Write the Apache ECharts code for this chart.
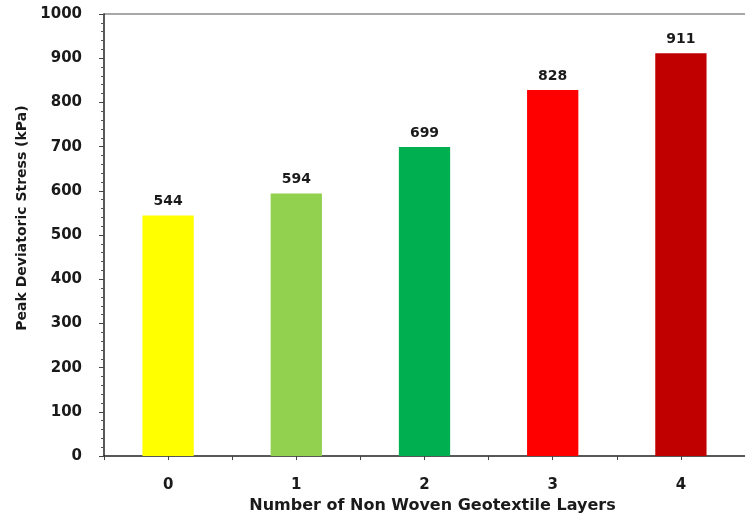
<!DOCTYPE html>
<html>
<head>
<meta charset="utf-8">
<script src="https://cdn.jsdelivr.net/npm/echarts@6/dist/echarts.min.js"></script>
<style>
  html, body { margin: 0; padding: 0; background: #fff; }
  #chart { width: 745px; height: 519px; }
</style>
</head>
<body>
<div id="chart"></div>
<script>
// Peak deviatoric stress against number of non-woven geotextile layers
const layers = ['0', '1', '2', '3', '4'];
const peakStress = [544, 594, 699, 828, 911];
const barColors = ['#FFFF00', '#92D050', '#00B050', '#FF0000', '#C00000'];
const yTicks = [0, 100, 200, 300, 400, 500, 600, 700, 800, 900, 1000];

const FONT = '"DejaVu Sans", sans-serif';
const TEXT = '#1a1a1a';
const chart = echarts.init(document.getElementById('chart'));

chart.setOption({
  animation: false,
  backgroundColor: '#fff',
  grid: { left: 104, right: -9, top: 14, bottom: 59 },
  xAxis: [
    {
      type: 'category',
      data: layers,
      name: 'Number of Non Woven Geotextile Layers',
      nameLocation: 'middle',
      nameGap: 36,
      nameTextStyle: { fontFamily: FONT, fontWeight: 'bold', fontSize: 16, color: TEXT, padding: [0, 0, 0, 16] },
      axisLine: { lineStyle: { color: '#222', width: 1.5 } },
      axisTick: { show: true, alignWithLabel: false, length: 4, lineStyle: { color: '#444' } },
      axisLabel: { fontFamily: FONT, fontWeight: 'bold', fontSize: 15, color: TEXT, margin: 22 }
    },
    {
      // ticks under each category centre
      type: 'category',
      data: layers,
      position: 'bottom',
      axisLine: { show: false },
      axisTick: { show: true, alignWithLabel: true, length: 4, lineStyle: { color: '#444' } },
      axisLabel: { show: false }
    }
  ],
  yAxis: {
    type: 'value',
    min: yTicks[0],
    max: yTicks[yTicks.length - 1],
    interval: 100,
    name: 'Peak Deviatoric Stress (kPa)',
    nameLocation: 'middle',
    nameGap: 73,
    nameTextStyle: { fontFamily: FONT, fontWeight: 'bold', fontSize: 14, color: TEXT, padding: [0, 0, 0, 34] },
    axisLine: { show: true, lineStyle: { color: '#222', width: 1.5 } },
    axisTick: { show: true, length: 5, lineStyle: { color: '#444' } },
    minorTick: { show: true, splitNumber: 5, length: 3, lineStyle: { color: '#555' } },
    splitLine: { show: false },
    axisLabel: {
      fontFamily: FONT, fontWeight: 'bold', fontSize: 15, color: TEXT, margin: 22,
      formatter: v => String(v)
    }
  },
  series: [{
    type: 'bar',
    xAxisIndex: 0,
    barWidth: '40%',
    data: peakStress.map((v, i) => ({ value: v, itemStyle: { color: barColors[i] } })),
    label: {
      show: true,
      position: 'top',
      distance: 7,
      fontFamily: FONT,
      fontWeight: 'bold',
      fontSize: 14,
      color: TEXT
    }
  }],
  graphic: [{
    type: 'line',
    shape: { x1: 104, y1: 14, x2: 745, y2: 14 },
    style: { stroke: '#8a8a8a', lineWidth: 1.5 }
  }]
});
</script>
</body>
</html>
